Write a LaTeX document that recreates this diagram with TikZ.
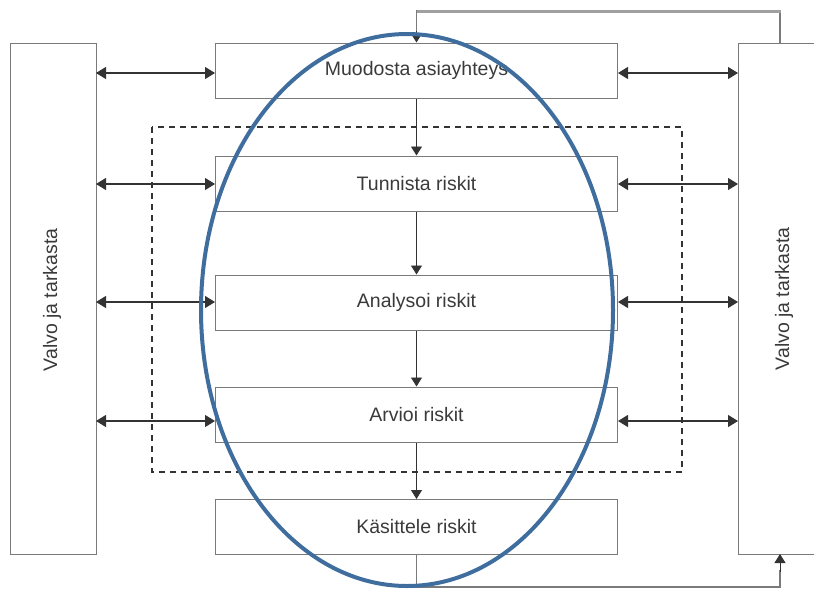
\documentclass[tikz,border=0pt]{standalone}
\usepackage{fontspec}
\setmainfont{Liberation Sans}
\usetikzlibrary{arrows.meta}
\definecolor{boxline}{HTML}{7A7A7A}
\definecolor{arrowc}{HTML}{333333}
\definecolor{txt}{HTML}{3A3A3A}
\definecolor{ell}{HTML}{3F6E9E}
\definecolor{fbline}{HTML}{A0A0A0}
\tikzset{
  stepbox/.style={draw=boxline, line width=1pt, minimum width=402pt, minimum height=55pt, inner sep=0pt, text=txt, font=\fontsize{19.5}{22}\selectfont},
  sidebox/.style={draw=boxline, line width=1pt, inner sep=0pt},
  darr/.style={draw=arrowc, line width=1.2pt, {Triangle[length=10pt,width=12pt]}-{Triangle[length=10pt,width=12pt]}},
  varr/.style={draw=arrowc, line width=0.9pt, -{Triangle[length=9pt,width=11pt]}},
  sidetxt/.style={text=txt, font=\fontsize{19.5}{22}\selectfont, rotate=90}
}
\begin{document}
\begin{tikzpicture}[x=1pt,y=-1pt]
\useasboundingbox (0,0) rectangle (814,590);
% side boxes
\draw[sidebox] (10,43) rectangle (96,554);
\draw[sidebox] (738,554) -- (738,43) -- (820,43);
\draw[sidebox] (738,554) -- (820,554);
\node[sidetxt] (lt) at (52,300) {Valvo ja tarkasta};
\node[sidetxt] (rt) at (784,299) {Valvo ja tarkasta};
\coordinate (lb1) at (96,73);
\coordinate (lb2) at (96,184);
\coordinate (lb3) at (96,302);
\coordinate (lb4) at (96,421);
\coordinate (rb1) at (738,73);
\coordinate (rb2) at (738,184);
\coordinate (rb3) at (738,302);
\coordinate (rb4) at (738,421);
% dashed frame
\draw[arrowc, line width=1.3pt, dash pattern=on 6pt off 5pt] (152,127) rectangle (682,472);
% step boxes
\node[stepbox] (b1) at (416.5,70.5) {Muodosta asiayhteys};
\node[stepbox] (b2) at (416.5,183.5) {Tunnista riskit};
\node[stepbox] (b3) at (416.5,302.5) {Analysoi riskit};
\node[stepbox] (b4) at (416.5,414.5) {Arvioi riskit};
\node[stepbox] (b5) at (416.5,527) {Käsittele riskit};
% vertical arrows
\draw[varr] (b1.south) -- (b2.north);
\draw[varr] (b2.south) -- (b3.north);
\draw[varr] (b3.south) -- (b4.north);
\draw[varr] (b4.south) -- (b5.north);
% horizontal double arrows
\draw[darr] (lb1) -- (b1.west |- lb1);
\draw[darr] (lb2) -- (b2.west |- lb2);
\draw[darr] (lb3) -- (b3.west |- lb3);
\draw[darr] (lb4) -- (b4.west |- lb4);
\draw[darr] (b1.east |- rb1) -- (rb1);
\draw[darr] (b2.east |- rb2) -- (rb2);
\draw[darr] (b3.east |- rb3) -- (rb3);
\draw[darr] (b4.east |- rb4) -- (rb4);
% feedback loops
\coordinate (rtop) at (780,43);
\coordinate (rbot) at (780,554);
\draw[draw=boxline, line width=1.2pt] (rtop) -- (780,11);
\draw[draw=fbline, line width=3pt] (781,11) -- (416.5,11);
\draw[draw=boxline, line width=1.2pt] (416.5,10) -- (416.5,32);
\draw[varr] (416.5,31) -- (b1.north);
\draw[draw=boxline, line width=1.2pt] (b5.south) -- (416.5,587) -- (780,587) -- (780,570);
\draw[varr] (780,572) -- (rbot);
% ellipse
\draw[ell, line width=4pt] (407,310) ellipse [x radius=206, y radius=276];
\end{tikzpicture}
\end{document}
